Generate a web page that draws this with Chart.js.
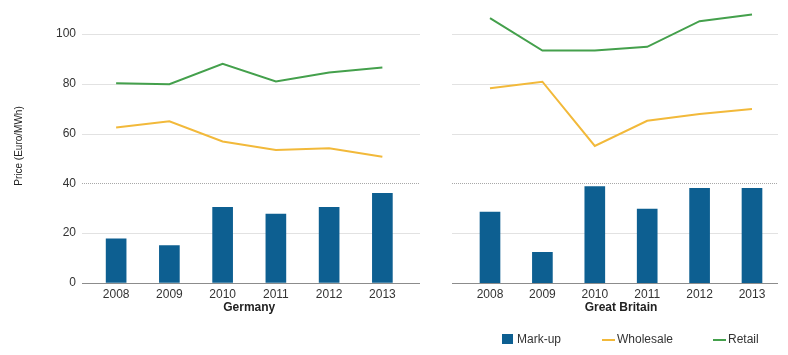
<!DOCTYPE html>
<html>
<head>
<meta charset="utf-8">
<script src="https://cdn.jsdelivr.net/npm/chart.js@4/dist/chart.umd.min.js"></script>
<style>
  html, body { margin: 0; padding: 0; background: #ffffff; }
  body { width: 788px; height: 355px; position: relative; overflow: hidden; font-family: "Liberation Sans", Arial, sans-serif; }
  .panel { position: absolute; top: 0; height: 355px; }
  #legend { position: absolute; top: 332px; left: 0; width: 788px; height: 16px; font-size: 12px; color: #333; }
  .li { position: absolute; top: 0; line-height: 14px; white-space: nowrap; }
  .sw { display: inline-block; vertical-align: middle; margin-right: 4px; }
</style>
</head>
<body>
<div class="panel" id="p1" style="left:0;width:430px;"><canvas id="c1"></canvas></div>
<div class="panel" id="p2" style="left:430px;width:358px;"><canvas id="c2"></canvas></div>
<div id="legend"></div>
<script>
// ---- data ----
const years = ['2008', '2009', '2010', '2011', '2012', '2013'];
const germanyMarkup    = [17.7, 15.0, 30.4, 27.7, 30.4, 36.0];
const germanyWholesale = [62.4, 64.9, 56.8, 53.4, 54.1, 50.7];
const germanyRetail    = [80.2, 79.8, 88.0, 80.9, 84.5, 86.5];
const gbMarkup    = [28.5, 12.3, 38.7, 29.7, 38.0, 38.0];
const gbWholesale = [78.2, 80.8, 55.0, 65.1, 67.8, 69.9];
const gbRetail    = [106.3, 93.3, 93.3, 94.8, 105.1, 107.8];
const yTicks = [0, 20, 40, 60, 80, 100];
const seriesNames = ['Mark-up', 'Wholesale', 'Retail'];
const panelTitles = ['Germany', 'Great Britain'];
const yAxisTitle = 'Price (Euro/MWh)';

// ---- styles ----
const COLORS = ['#0d5f91', '#f2b93a', '#44a04c'];
const FONT = '"Liberation Sans", Arial, sans-serif';
const TEXT = '#333333';

const gridPlugin = {
  id: 'extGrid',
  beforeDatasetsDraw(chart, args, opts) {
    const y = chart.scales.y;
    const ctx = chart.ctx;
    ctx.save();
    yTicks.forEach(v => {
      const py = Math.round(y.getPixelForValue(v)) + 0.5;
      ctx.beginPath();
      if (v === 0) { ctx.strokeStyle = '#8c8c8c'; ctx.setLineDash([]); }
      else if (v === 40) { ctx.strokeStyle = '#a8a8a8'; ctx.setLineDash([1, 1]); }
      else { ctx.strokeStyle = '#e2e2e2'; ctx.setLineDash([]); }
      ctx.lineWidth = 1;
      ctx.moveTo(opts.from, py);
      ctx.lineTo(opts.to, py);
      ctx.stroke();
    });
    ctx.restore();
  }
};

function makeChart(id, markup, wholesale, retail, title, cfg) {
  return new Chart(document.getElementById(id), {
    type: 'bar',
    plugins: [gridPlugin],
    data: {
      labels: years,
      datasets: [
        { type: 'line', label: seriesNames[2], data: retail, borderColor: COLORS[2], backgroundColor: COLORS[2], borderWidth: 2, pointRadius: 0, tension: 0, order: 1 },
        { type: 'line', label: seriesNames[1], data: wholesale, borderColor: COLORS[1], backgroundColor: COLORS[1], borderWidth: 2, pointRadius: 0, tension: 0, order: 2 },
        { type: 'bar', label: seriesNames[0], data: markup, backgroundColor: COLORS[0], barThickness: 20, order: 3 }
      ]
    },
    options: {
      responsive: true,
      maintainAspectRatio: false,
      animation: false,
      events: [],
      layout: { padding: cfg.padding, autoPadding: false },
      plugins: {
        legend: { display: false },
        tooltip: { enabled: false },
        extGrid: { from: cfg.gridFrom, to: cfg.gridTo }
      },
      scales: {
        x: {
          grid: { display: false, drawTicks: false },
          border: { display: false },
          ticks: { padding: 4, color: TEXT, font: { family: FONT, size: 12 } },
          title: { display: true, text: title, color: '#222', padding: 0, font: { family: FONT, size: 12, weight: 'bold' } },
          afterFit: s => { s.height = 32; }
        },
        y: {
          display: cfg.showY,
          min: 0, max: 110,
          afterBuildTicks: s => { s.ticks = yTicks.map(v => ({ value: v })); },
          grid: { display: true, color: 'rgba(0,0,0,0)', drawOnChartArea: false, drawTicks: true, tickLength: 13.5 },
          border: { display: false },
          ticks: { padding: 0, color: TEXT, font: { family: FONT, size: 12 } },
          title: { display: cfg.showY, text: yAxisTitle, color: '#222', padding: 0, font: { family: FONT, size: 10 } },
          afterFit: s => { if (cfg.showY) s.width = 76.5; else s.width = 0; }
        }
      }
    }
  });
}

makeChart('c1', germanyMarkup, germanyWholesale, germanyRetail, panelTitles[0],
  { padding: { left: 13, right: 21, top: 9, bottom: 40 }, showY: true, gridFrom: 82, gridTo: 420 });
makeChart('c2', gbMarkup, gbWholesale, gbRetail, panelTitles[1],
  { padding: { left: 33.8, right: 9.8, top: 9, bottom: 40 }, showY: false, gridFrom: 22, gridTo: 348 });

// ---- legend ----
const legend = document.getElementById('legend');
const legendX = [502, 602, 713];
seriesNames.forEach((name, i) => {
  const item = document.createElement('div');
  item.className = 'li';
  item.style.left = legendX[i] + 'px';
  const sw = document.createElement('span');
  sw.className = 'sw';
  if (i === 0) { sw.style.width = '11px'; sw.style.height = '10px'; sw.style.marginTop = '-2px'; }
  else { sw.style.width = '13px'; sw.style.height = '2px'; sw.style.marginRight = '2px'; }
  sw.style.background = COLORS[i];
  item.appendChild(sw);
  item.appendChild(document.createTextNode(name));
  legend.appendChild(item);
});
</script>
</body>
</html>
